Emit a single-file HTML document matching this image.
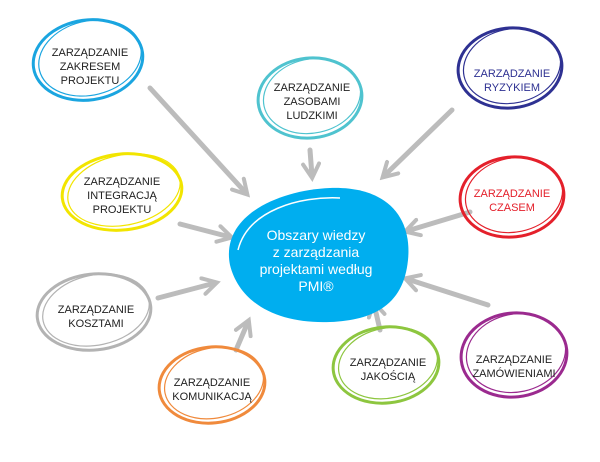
<!DOCTYPE html>
<html><head><meta charset="utf-8"><style>
body{margin:0;background:#fff}
svg{display:block}
text{font-family:"Liberation Sans",sans-serif;font-size:11px;text-anchor:middle;fill:#222}
.c text{fill:#fff;font-size:14px}
</style></head><body>
<svg width="600" height="462" viewBox="0 0 600 462">
<defs><marker id="a" viewBox="0 0 10 10" refX="7" refY="5" markerWidth="4" markerHeight="4" orient="auto"><path d="M1,1 L8,5 L1,9" fill="none" stroke="#bcbcbc" stroke-width="2" stroke-linecap="round"/></marker></defs>
<g stroke="#bcbcbc" stroke-width="5" stroke-linecap="round" marker-end="url(#a)">
<line x1="150" y1="88" x2="246" y2="193"/>
<line x1="310" y1="150" x2="312" y2="176"/>
<line x1="452" y1="110" x2="384" y2="176"/>
<line x1="180" y1="224" x2="230" y2="237"/>
<line x1="470" y1="212" x2="407" y2="231"/>
<line x1="158" y1="298" x2="215" y2="283"/>
<line x1="236" y1="350" x2="248" y2="322"/>
<line x1="380" y1="330" x2="374" y2="304"/>
<line x1="488" y1="305" x2="407" y2="279"/>
</g>
<g fill="none" stroke-width="3">
<g stroke="#1aa5e0"><ellipse cx="88" cy="60" rx="55" ry="40" transform="rotate(-8 88 60)"/><ellipse cx="90" cy="58" rx="52" ry="37" stroke-width="1.2" transform="rotate(-14 90 58)"/></g>
<g stroke="#4fc3cf"><ellipse cx="310" cy="98" rx="52" ry="40" transform="rotate(-6 310 98)"/><ellipse cx="312" cy="96" rx="49" ry="37" stroke-width="1.2" transform="rotate(-12 312 96)"/></g>
<g stroke="#2e3192"><ellipse cx="510" cy="68" rx="52" ry="40" transform="rotate(-6 510 68)"/><ellipse cx="512" cy="66" rx="49" ry="37" stroke-width="1.2" transform="rotate(-12 512 66)"/></g>
<g stroke="#f2e500"><ellipse cx="122" cy="192" rx="60" ry="38" transform="rotate(-6 122 192)"/><ellipse cx="124" cy="190" rx="57" ry="35" stroke-width="1.2" transform="rotate(-12 124 190)"/></g>
<g stroke="#e4202b"><ellipse cx="512" cy="197" rx="52" ry="40" transform="rotate(-6 512 197)"/><ellipse cx="514" cy="195" rx="49" ry="37" stroke-width="1.2" transform="rotate(-12 514 195)"/></g>
<g stroke="#b3b3b3"><ellipse cx="94" cy="312" rx="57" ry="38" transform="rotate(-6 94 312)"/><ellipse cx="96" cy="310" rx="54" ry="35" stroke-width="1.2" transform="rotate(-12 96 310)"/></g>
<g stroke="#f08a3c"><ellipse cx="212" cy="385" rx="53" ry="38" transform="rotate(-6 212 385)"/><ellipse cx="214" cy="383" rx="50" ry="35" stroke-width="1.2" transform="rotate(-12 214 383)"/></g>
<g stroke="#8dc63f"><ellipse cx="386" cy="365" rx="53" ry="38" transform="rotate(-6 386 365)"/><ellipse cx="388" cy="363" rx="50" ry="35" stroke-width="1.2" transform="rotate(-12 388 363)"/></g>
<g stroke="#9b2a8f"><ellipse cx="514" cy="355" rx="53" ry="42" transform="rotate(-6 514 355)"/><ellipse cx="516" cy="353" rx="50" ry="39" stroke-width="1.2" transform="rotate(-12 516 353)"/></g>
</g>
<path d="M230,265 C220,215 280,190 330,188 C390,186 412,220 408,260 C404,300 380,320 330,322 C280,324 240,305 230,265Z" fill="#00aeef"/>
<path d="M238,250 C248,210 300,196 340,198" fill="none" stroke="#fff" stroke-width="1.5"/>
<g class="c"><text x="316" y="240">Obszary wiedzy</text><text x="316" y="257">z zarządzania</text><text x="316" y="274">projektami według</text><text x="316" y="291">PMI®</text></g>
<text x="90" y="56">ZARZĄDZANIE</text><text x="90" y="70">ZAKRESEM</text><text x="90" y="84">PROJEKTU</text>
<text x="312" y="91">ZARZĄDZANIE</text><text x="312" y="105">ZASOBAMI</text><text x="312" y="119">LUDZKIMI</text>
<text x="512" y="77" style="fill:#2e3192">ZARZĄDZANIE</text><text x="512" y="91" style="fill:#2e3192">RYZYKIEM</text>
<text x="122" y="185">ZARZĄDZANIE</text><text x="122" y="199">INTEGRACJĄ</text><text x="122" y="213">PROJEKTU</text>
<text x="512" y="197" style="fill:#e4202b">ZARZĄDZANIE</text><text x="512" y="211" style="fill:#e4202b">CZASEM</text>
<text x="96" y="313">ZARZĄDZANIE</text><text x="96" y="327">KOSZTAMI</text>
<text x="212" y="386">ZARZĄDZANIE</text><text x="212" y="400">KOMUNIKACJĄ</text>
<text x="388" y="366">ZARZĄDZANIE</text><text x="388" y="380">JAKOŚCIĄ</text>
<text x="514" y="363">ZARZĄDZANIE</text><text x="514" y="377">ZAMÓWIENIAMI</text>
</svg>
</body></html>
